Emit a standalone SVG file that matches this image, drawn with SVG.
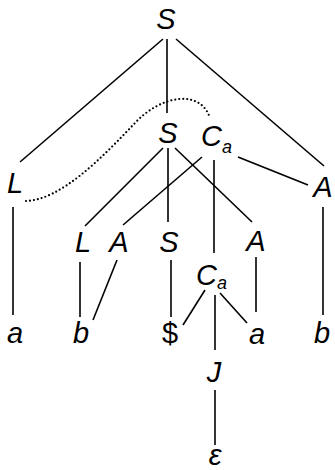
<svg xmlns="http://www.w3.org/2000/svg" width="335" height="470" viewBox="0 0 335 470">
  <style>
    .edge { stroke: #000; stroke-width: 1.6; fill: none; stroke-linecap: butt; }
    .dots { stroke: #000; stroke-width: 2.2; fill: none; stroke-linecap: round; stroke-dasharray: 0 4; }
    .sym { font-family: "Liberation Sans", Arial, sans-serif; font-size: 29px; font-style: italic; fill: #000; text-anchor: middle; }
    .term { font-style: normal; }
    .sub { font-size: 18px; }
  </style>
  <rect width="335" height="470" fill="#fff"/>

  <!-- tree edges -->
  <g id="connectors">
    <line class="edge" x1="163" y1="39" x2="20" y2="162"/>
    <line class="edge" x1="167" y1="39" x2="167" y2="113"/>
    <line class="edge" x1="176" y1="39" x2="324" y2="166"/>

    <line class="edge" x1="13" y1="207" x2="13" y2="315"/>

    <line class="edge" x1="163" y1="148" x2="85" y2="226"/>
    <line class="edge" x1="168" y1="148" x2="168" y2="222"/>
    <line class="edge" x1="175" y1="148" x2="252" y2="222"/>

    <line class="edge" x1="202" y1="157" x2="123" y2="225"/>
    <line class="edge" x1="214" y1="160" x2="214" y2="253"/>
    <line class="edge" x1="238" y1="157" x2="308" y2="185"/>

    <line class="edge" x1="323" y1="207" x2="323" y2="315"/>

    <line class="edge" x1="80" y1="262" x2="80" y2="317"/>
    <line class="edge" x1="117" y1="260" x2="93" y2="320"/>
    <line class="edge" x1="171" y1="260" x2="171" y2="317"/>
    <line class="edge" x1="256" y1="257" x2="256" y2="312"/>

    <line class="edge" x1="205" y1="290" x2="183" y2="325"/>
    <line class="edge" x1="215" y1="295" x2="215" y2="350"/>
    <line class="edge" x1="220" y1="293" x2="247" y2="323"/>

    <line class="edge" x1="215" y1="390" x2="215" y2="445"/>

    <!-- dotted link from L to C_a -->
    <path class="dots" d="M26,201 C60,200 100,160 135,123 C160,96 200,88 210,118"/>
  </g>

  <!-- nodes -->
  <g id="n-S0"><text class="sym" x="166" y="29">S</text></g>
  <g id="n-S1"><text class="sym" x="168" y="143">S</text></g>
  <g id="n-Ca1"><text class="sym" x="201" y="146" style="text-anchor:start">C<tspan class="sub" dy="7">a</tspan></text></g>
  <g id="n-L1"><text class="sym" x="15" y="193">L</text></g>
  <g id="n-A1"><text class="sym" x="323" y="197">A</text></g>
  <g id="n-L2"><text class="sym" x="83" y="252">L</text></g>
  <g id="n-A2"><text class="sym" x="119" y="252">A</text></g>
  <g id="n-S2"><text class="sym" x="169" y="252">S</text></g>
  <g id="n-A3"><text class="sym" x="256" y="251">A</text></g>
  <g id="n-Ca2"><text class="sym" x="196" y="285" style="text-anchor:start">C<tspan class="sub" dy="4">a</tspan></text></g>
  <g id="n-a1"><text class="sym" x="15" y="343">a</text></g>
  <g id="n-b1"><text class="sym" x="81" y="343">b</text></g>
  <g id="n-dollar"><text class="sym term" x="170" y="343">$</text></g>
  <g id="n-a2"><text class="sym" x="257" y="344">a</text></g>
  <g id="n-b2"><text class="sym" x="322" y="343">b</text></g>
  <g id="n-J"><text class="sym" x="214" y="382">J</text></g>
  <g id="n-eps"><text class="sym" x="215" y="465">ε</text></g>
</svg>
